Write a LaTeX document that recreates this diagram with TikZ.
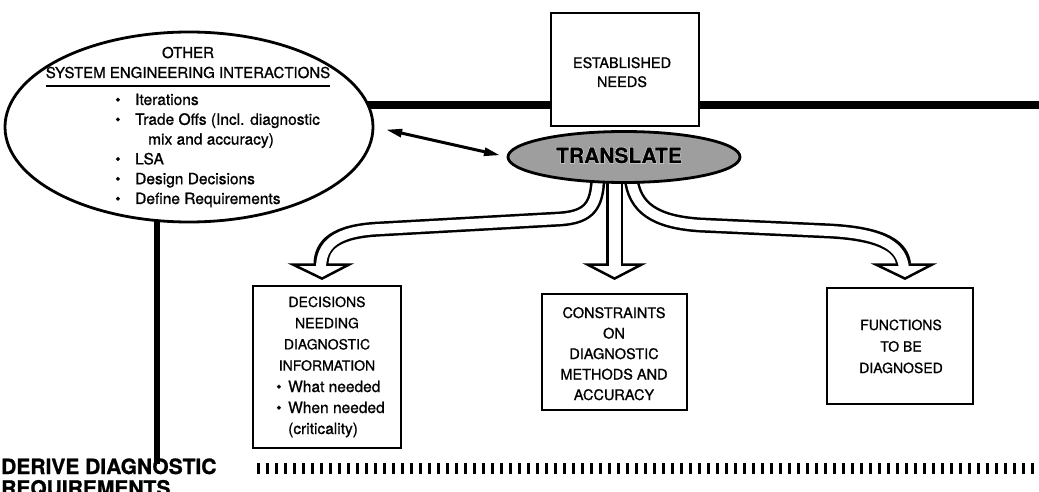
\documentclass[tikz,border=0pt]{standalone}
\usepackage{fontspec}
\setmainfont{TeX Gyre Heros}[FakeBold=0.9]
\usetikzlibrary{shapes.geometric,arrows.meta,calc}

% font size helper
\newcommand\setfs[2]{\fontsize{#1}{#2}\selectfont}
% black lettering with a white outline
\newcommand\halotext[1]{\leavevmode
  \rlap{\textcolor{white}{\addfontfeature{FakeBold=5}#1}}#1}

\begin{document}
\begin{tikzpicture}[x=1pt,y=-1pt,
  box/.style={draw, line width=2.8pt, fill=white, inner sep=0pt},
  lbl/.style={inner sep=0pt, anchor=base},
  lblw/.style={inner sep=0pt, anchor=base west},
  wall/.style={line width=#1, line join=round},
  bore/.style={line width=#1, white, line join=round},
  headshape/.style={draw, fill=white, line width=2.5pt, line join=miter},
  bar/.style={line width=#1},
]
\useasboundingbox (0,0) rectangle (1039,492);

% heavy interaction bars
\coordinate (hbarL) at (360,105);
\coordinate (hbarR) at (1039,105);
\draw[bar=8pt] (hbarL) -- (hbarR);
\coordinate (vbarT) at (157,200);
\coordinate (vbarB) at (157,464);
\draw[bar=6pt] (vbarT) -- (vbarB);

% other system engineering interactions
\node[ellipse, draw, line width=2.8pt, fill=white, minimum width=368pt,
      minimum height=190pt, inner sep=0pt] (other) at (189,127) {};

% boxes
\node[box, minimum width=148pt, minimum height=113pt] (needs) at (625,69.5) {};
\node[box, minimum width=148pt, minimum height=162pt] (dec) at (327,367) {};
\node[box, minimum width=145pt, minimum height=116pt] (con) at (614.5,352) {};
\node[box, minimum width=146pt, minimum height=116pt] (fun) at (900,346) {};

% translate node (placed first so the pipes can start at it)
\node[ellipse, minimum width=232pt, minimum height=51pt, inner sep=0pt] (translate) at (624,157) {};

% hollow branching arrows
\coordinate (pL0) at ($(translate.center)+(-26,20)$);
\coordinate (pM0) at ($(translate.center)+(-9.5,20)$);
\coordinate (pR0) at ($(translate.center)+(7,20)$);
\coordinate (pLend) at ($(dec.north)+(-6,-16)$);
\coordinate (pMend) at ($(con.north)+(0,-24)$);
\coordinate (pRend) at ($(fun.north)+(4,-18)$);
\coordinate (hL) at ($(dec.north)+(-6,-20)$);
\coordinate (hM) at ($(con.north)+(0,-28)$);
\coordinate (hR) at ($(fun.north)+(4,-22)$);
\coordinate (tL) at ($(dec.north)+(-5,-6)$);
\coordinate (tM) at ($(con.north)+(0,-14)$);
\coordinate (tR) at ($(fun.north)+(5,-8)$);

\draw[headshape] ($(hL)+(-28,0)$) -- ($(hL)+(28,0)$) -- (tL) -- cycle;
\draw[headshape] ($(hM)+(-27,0)$) -- ($(hM)+(27,0)$) -- (tM) -- cycle;
\draw[headshape] ($(hR)+(-28,0)$) -- ($(hR)+(28,0)$) -- (tR) -- cycle;

\draw[wall=15pt, shorten >=4pt] (pL0) .. controls (597,205) and (590,217) .. (560,219)
   -- (380,229) .. controls (335,231) and (321,245) .. (pLend);
\draw[wall=17pt, shorten >=4pt] (pM0) -- (pMend);
\draw[wall=15pt, shorten >=4pt] (pR0) .. controls (634,208) and (655,222) .. (700,225)
   -- (830,231) .. controls (886,234) and (902,248) .. (pRend);

\draw[bore=10pt] (pL0) .. controls (597,205) and (590,217) .. (560,219)
   -- (380,229) .. controls (335,231) and (321,245) .. (pLend);
\draw[bore=12pt] (pM0) -- (pMend);
\draw[bore=10pt] (pR0) .. controls (634,208) and (655,222) .. (700,225)
   -- (830,231) .. controls (886,234) and (902,248) .. (pRend);

% translate ellipse drawn over the pipe roots
\draw[line width=2.8pt, fill=black!38] (translate.center) ellipse [x radius=116, y radius=25.5];
\node[lbl] (translateText) at (619,163) {\setfs{21}{25}\bfseries\halotext{TRANSLATE}};

% two-way link between the interactions and translate
\draw[line width=3pt, {Triangle[length=16pt,width=8pt]}-{Triangle[length=16pt,width=8pt]},
      shorten <=12pt, shorten >=8pt] (other.east) -- (translate.west);

% ellipse text
\node[lbl] (hdr) at (188,58) {\setfs{15}{20}\begin{tabular}[t]{@{}c@{}}OTHER\\SYSTEM ENGINEERING INTERACTIONS\end{tabular}};
\draw[line width=2.5pt] ([yshift=-2pt]hdr.south west) -- ([yshift=-2pt]hdr.south east);
\node[lblw] (items) at (115,105) {\setfs{15.5}{19.8}\begin{tabular}[t]{@{}l@{}}
  \makebox[20pt][l]{\textbullet}Iterations\\
  \makebox[20pt][l]{\textbullet}Trade Offs (Incl. diagnostic\\
  \hspace*{33pt}mix and accuracy)\\
  \makebox[20pt][l]{\textbullet}LSA\\
  \makebox[20pt][l]{\textbullet}Design Decisions\\
  \makebox[20pt][l]{\textbullet}Define Requirements
  \end{tabular}};

% box text
\node[lbl] (needsText) at (622,68) {\setfs{14.5}{19}\begin{tabular}[t]{@{}c@{}}ESTABLISHED\\NEEDS\end{tabular}};
\node[lbl] (decText) at (327,307) {\setfs{14}{21.2}\begin{tabular}[t]{@{}c@{}}DECISIONS\\NEEDING\\DIAGNOSTIC\\INFORMATION\end{tabular}};
\node[lblw] (decItems) at (276,392) {\setfs{15.5}{21}\begin{tabular}[t]{@{}l@{}}
  \makebox[12pt][l]{\textbullet}What needed\\
  \makebox[12pt][l]{\textbullet}When needed\\
  \hspace*{12pt}(criticality)
  \end{tabular}};
\node[lbl] (conText) at (614,318) {\setfs{14.5}{20.5}\begin{tabular}[t]{@{}c@{}}CONSTRAINTS\\ON\\DIAGNOSTIC\\METHODS AND\\ACCURACY\end{tabular}};
\node[lbl] (funText) at (901,330) {\setfs{14}{21.5}\begin{tabular}[t]{@{}c@{}}FUNCTIONS\\TO BE\\DIAGNOSED\end{tabular}};

% stage title and tick rule
\node[lblw] (derive) at (1,474) {\setfs{21}{20}\bfseries\begin{tabular}[t]{@{}l@{}}DERIVE DIAGNOSTIC\\REQUIREMENTS\end{tabular}};
\coordinate (tickL) at (257,468);
\coordinate (tickR) at (1039,468);
\draw[line width=11pt, dash pattern=on 2.6pt off 6.4pt] (tickL) -- (tickR);
\end{tikzpicture}
\end{document}
